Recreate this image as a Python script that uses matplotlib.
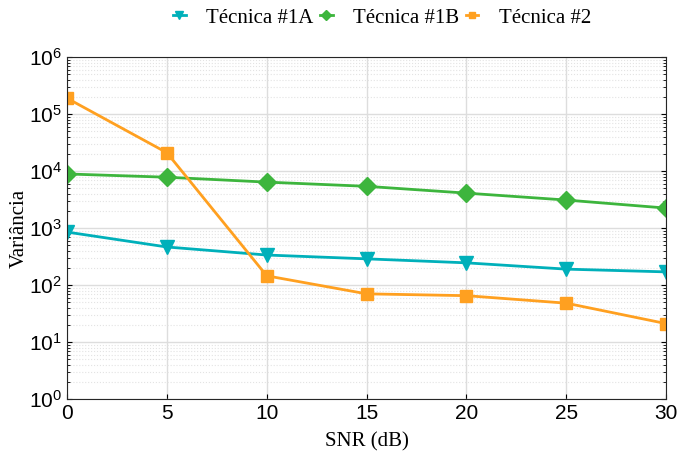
import numpy as np
import matplotlib
matplotlib.use('Agg')
import matplotlib.pyplot as plt
from matplotlib.ticker import LogLocator, NullFormatter

# Data
snr = [0, 5, 10, 15, 20, 25, 30]
tec_1a = [850, 465, 336, 288, 245, 190, 170]
tec_1b = [8900, 7800, 6400, 5400, 4100, 3100, 2240]
tec_2 = [190000, 21000, 145, 70, 65, 48, 21]

fig = plt.figure(figsize=(6.77, 4.57), dpi=100)
ax = fig.add_axes([0.099, 0.127, 0.885, 0.748])

ax.plot(snr, tec_1a, color='#00B0BA', marker='v', markersize=10, linewidth=2, label='Técnica #1A')
ax.plot(snr, tec_1b, color='#3DB53D', marker='D', markersize=9, linewidth=2, label='Técnica #1B')
ax.plot(snr, tec_2, color='#FFA020', marker='s', markersize=8, linewidth=2, label='Técnica #2')

ax.set_yscale('log')
ax.set_xlim(0, 30)
ax.set_ylim(1, 1e6)
ax.set_xticks(snr)
ax.yaxis.set_major_locator(LogLocator(base=10, numticks=10))
ax.yaxis.set_minor_locator(LogLocator(base=10, subs=np.arange(2, 10), numticks=100))
ax.yaxis.set_minor_formatter(NullFormatter())

ax.grid(True, which='major', color='#dddddd', linewidth=1)
ax.grid(True, which='minor', axis='y', color='#e3e3e3', linestyle=':', linewidth=0.8)
ax.set_axisbelow(True)

ax.tick_params(which='both', direction='in', right=True, top=False, labelsize=15)
for lab in ax.get_xticklabels() + ax.get_yticklabels():
    lab.set_fontfamily('Liberation Sans')
for sp in ax.spines.values():
    sp.set_color('#262626')

ax.set_xlabel('SNR (dB)', fontfamily='Liberation Serif', fontsize=15, labelpad=7)
ax.set_ylabel('Variância', fontfamily='Liberation Serif', fontsize=15, labelpad=0)

ax.legend(loc='center', bbox_to_anchor=(0.526, 1.115), ncol=3, frameon=False,
          prop={'family': 'Liberation Serif', 'size': 15}, handlelength=0.6,
          handletextpad=1.0, columnspacing=0.3, markerscale=0.6, borderaxespad=0)

fig.savefig('out.png', dpi=100)
